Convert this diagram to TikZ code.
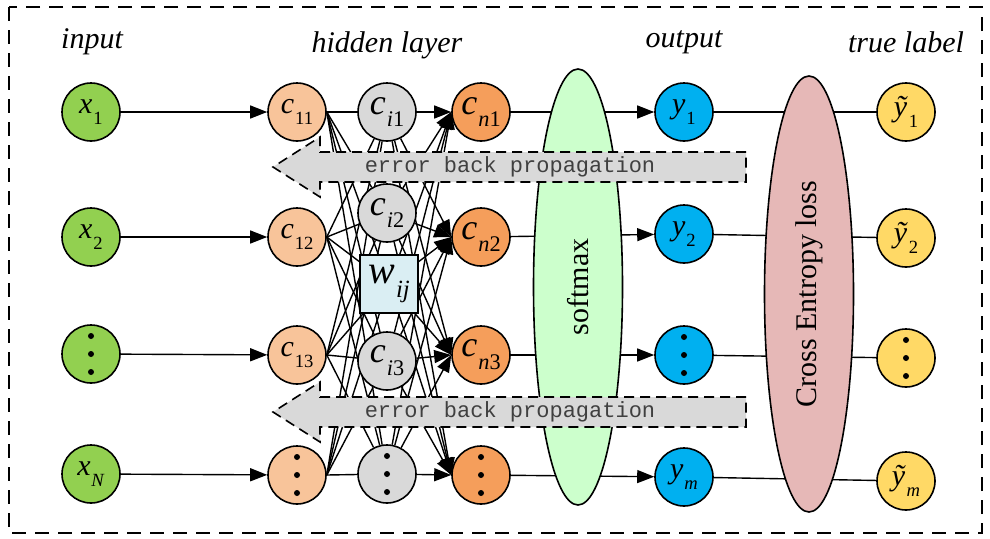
\documentclass[tikz,border=0pt]{standalone}
\usepackage{fontspec}
\setmainfont{Liberation Serif}
\newfontfamily\monof{Liberation Mono}
\usetikzlibrary{arrows.meta,shapes.geometric}
\pgfdeclarelayer{bg}
\pgfsetlayers{bg,main}
\newcommand{\nsub}[2]{\textit{#1}\kern0.03em\raisebox{-0.36em}{\scalebox{0.62}{#2}}}
\definecolor{cgreen}{HTML}{92D050}
\definecolor{cpeach}{HTML}{F8C49A}
\definecolor{cgray}{HTML}{D9D9D9}
\definecolor{corange}{HTML}{F59E5B}
\definecolor{cblue}{HTML}{00B0F0}
\definecolor{cyellow}{HTML}{FFD966}
\definecolor{cwbox}{HTML}{DAEEF3}
\definecolor{csoft}{HTML}{CCFFCC}
\definecolor{cce}{HTML}{E6B8B7}
\begin{document}
\begin{tikzpicture}[x=1pt,y=-1pt,
  every node/.style={inner sep=0pt},
  nd/.style={circle,draw,line width=1.6pt,minimum size=58pt,font=\fontsize{30}{30}\selectfont},
  ndbig/.style={nd,font=\fontsize{36}{36}\selectfont},
  ttl/.style={font=\fontsize{30}{36}\selectfont\itshape},
  wire/.style={line width=1.4pt},
  arr/.style={line width=1.4pt,-{Triangle[length=17pt,width=13pt]}},
  errarrow/.style={draw,fill=cgray,line width=1.6pt,dash pattern=on 10pt off 6pt},
  errtext/.style={font=\monof\fontsize{22}{22}\selectfont,text=black!75},
  bigell/.style={ellipse,draw,line width=1.6pt,rotate=90,minimum width=436pt,minimum height=89pt,font=\fontsize{30}{30}\selectfont}]
\useasboundingbox (0,0) rectangle (990,538);
% frame
\draw[line width=1.6pt,dash pattern=on 14pt off 9pt] (9,7) rectangle (982,533);
% titles
\node[ttl] (tin) at (92,42) {input};
\node[ttl] (thid) at (387,45) {hidden layer};
\node[ttl] (tout) at (684,42) {output};
\node[ttl] (ttrue) at (906,42) {true label};
% input
\node[nd,fill=cgreen] (x1) at (91,112) {\nsub{x}{1}};
\node[nd,fill=cgreen] (x2) at (91,237) {\nsub{x}{2}};
\node[nd,fill=cgreen] (xd) at (91,354) {};
\node[nd,fill=cgreen] (xN) at (91,474) {\nsub{x}{\textit{N}}};
% first hidden
\node[nd,fill=cpeach] (c11) at (297,112) {\nsub{c}{11}};
\node[nd,fill=cpeach] (c12) at (297,237) {\nsub{c}{12}};
\node[nd,fill=cpeach] (c13) at (297,355) {\nsub{c}{13}};
\node[nd,fill=cpeach] (cd) at (297,475) {};
% middle
\node[ndbig,fill=cgray] (ci1) at (387,112) {\nsub{c}{\textit{i}1}};
\node[ndbig,fill=cgray] (ci2) at (387,213) {\nsub{c}{\textit{i}2}};
\node[draw,line width=1.6pt,fill=cwbox,minimum size=58pt,font=\fontsize{40}{40}\selectfont] (w) at (389,284) {\nsub{w}{\textit{ij}}};
\node[ndbig,fill=cgray] (ci3) at (387,361) {\nsub{c}{\textit{i}3}};
\node[ndbig,fill=cgray] (cid) at (387,474) {};
% last hidden
\node[ndbig,fill=corange] (cn1) at (481,112) {\nsub{c}{\textit{n}1}};
\node[ndbig,fill=corange] (cn2) at (481,237) {\nsub{c}{\textit{n}2}};
\node[ndbig,fill=corange] (cn3) at (481,355) {\nsub{c}{\textit{n}3}};
\node[ndbig,fill=corange] (cnd) at (481,475) {};
% softmax and loss
\node[bigell,fill=csoft] (sm) at (578,287) {softmax};
\node[bigell,fill=cce] (ce) at (809,294) {Cross Entropy loss};
% output
\node[nd,fill=cblue] (y1) at (684,112) {\nsub{y}{1}};
\node[nd,fill=cblue] (y2) at (684,234) {\nsub{y}{2}};
\node[nd,fill=cblue] (yd) at (684,355) {};
\node[nd,fill=cblue] (ym) at (684,477) {\nsub{y}{\textit{m}}};
% true labels
\node[nd,fill=cyellow] (t1) at (906,112) {\nsub{ỹ}{1}};
\node[nd,fill=cyellow] (t2) at (906,238) {\nsub{ỹ}{2}};
\node[nd,fill=cyellow] (td) at (906,358) {};
\node[nd,fill=cyellow] (tm) at (906,481) {\nsub{ỹ}{\textit{m}}};
% vertical dots
\foreach \n in {xd,cd,cid,cnd,yd,td}{
  \fill ([yshift=18pt]\n.center) circle (3pt);
  \fill (\n.center) circle (3pt);
  \fill ([yshift=-18pt]\n.center) circle (3pt);
}
% error back propagation arrows
\draw[errarrow] (746,152) -- (320,152) -- (320,137) -- (273,167) -- (320,197) -- (320,182) -- (746,182) -- cycle;
\node[errtext] (e1) at (510,167) {error back propagation};
\draw[errarrow] (746,397) -- (320,397) -- (320,382) -- (273,412) -- (320,442) -- (320,427) -- (746,427) -- cycle;
\node[errtext] (e2) at (510,412) {error back propagation};
% connectors
\begin{pgfonlayer}{bg}
\draw[arr] (x1) -- (c11);
\draw[arr] (x2) -- (c12);
\draw[arr] (xd) -- (c13);
\draw[arr] (xN) -- (cd);
\foreach \a in {c11,c12,c13,cd}{
  \foreach \b in {ci1,ci2,w,ci3,cid}{
    \draw[wire] (\a.east) -- (\b);
  }
}
\foreach \b in {ci1,ci2,w,ci3,cid}{
  \foreach \a in {cn1,cn2,cn3,cnd}{
    \draw[arr] (\b) -- (\a.west);
  }
}
\draw[arr] (cn1) -- (y1);
\draw[arr] (cn2) -- (y2);
\draw[arr] (cn3) -- (yd);
\draw[arr] (cnd) -- (ym);
\draw[wire] (y1) -- (t1);
\draw[wire] (y2) -- (t2);
\draw[wire] (yd) -- (td);
\draw[wire] (ym) -- (tm);
\end{pgfonlayer}
\end{tikzpicture}
\end{document}
